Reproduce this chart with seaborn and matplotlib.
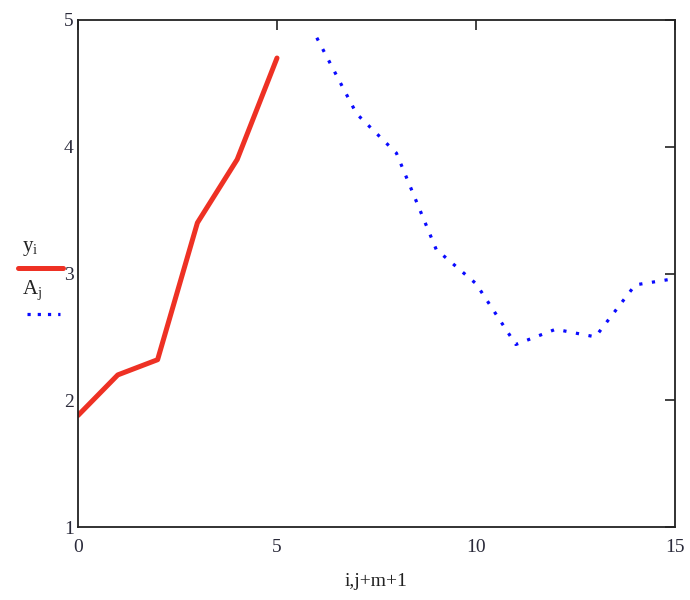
import matplotlib
matplotlib.use("Agg")
import matplotlib.pyplot as plt
import seaborn as sns
import pandas as pd

# data
red_x = [0, 1, 2, 3, 4, 5]
red_y = [1.88, 2.20, 2.32, 3.40, 3.90, 4.70]
blue_x = [6, 7, 8, 9, 10, 11, 12, 13, 14, 15]
blue_y = [4.86, 4.26, 3.95, 3.19, 2.92, 2.44, 2.56, 2.50, 2.91, 2.96]
x_ticks = [0, 5, 10, 15]
y_ticks = [1, 2, 3, 4, 5]
x_label = "i,j+m+1"

sns.set_style("white")
plt.rcParams['font.family'] = ['Liberation Serif', 'DejaVu Serif']
plt.rcParams['mathtext.fontset'] = 'custom'
plt.rcParams['mathtext.rm'] = 'Liberation Serif'
plt.rcParams['mathtext.it'] = 'Liberation Serif'

RED = "#ee3124"
BLUE = "#0a0aff"
DOTS = (0, (1, 3.0))

fig = plt.figure(figsize=(6.9, 6.0), dpi=100)
ax = fig.add_axes([78/690, 1-527/600, (675-78)/690, (527-20)/600])

df_r = pd.DataFrame({"x": red_x, "y": red_y})
df_b = pd.DataFrame({"x": blue_x, "y": blue_y})
sns.lineplot(data=df_r, x="x", y="y", ax=ax, color=RED, linewidth=3.6)
sns.lineplot(data=df_b, x="x", y="y", ax=ax, color=BLUE, linewidth=2.3,
             linestyle=DOTS)

ax.set_xlim(0, 15)
ax.set_ylim(1, 5)
ax.set_xticks(x_ticks)
ax.set_yticks(y_ticks)
ax.set_xticklabels([str(v) for v in x_ticks])
ax.set_yticklabels([str(v) for v in y_ticks])
ax.tick_params(axis='both', direction='in', length=7, width=1.2, color='#222222',
               labelsize=14, labelcolor='#2a2a3a', top=True, right=True,
               labeltop=False, labelright=False)
ax.tick_params(axis='x', pad=9)
ax.tick_params(axis='y', pad=3)
ax.set_xlabel(x_label, fontsize=14, color='#222222', labelpad=12)
ax.set_ylabel("")
for s in ax.spines.values():
    s.set_color('#222222')
    s.set_linewidth(1.3)

# legend-like labels on the left, Mathcad style
fig.text(22/690, 1-248/600, r"$\mathrm{y_i}$", fontsize=15, ha='left', va='center', color='#222222')
fig.text(22/690, 1-290/600, r"$\mathrm{A_j}$", fontsize=15, ha='left', va='center', color='#222222')
fig.add_artist(plt.Line2D([18/690, 63/690], [1-268/600, 1-268/600], color=RED,
                          linewidth=3.6, transform=fig.transFigure))
fig.add_artist(plt.Line2D([27/690, 60/690], [1-314/600, 1-314/600], color=BLUE,
                          linewidth=2.3, linestyle=(0, (1, 2.2)), transform=fig.transFigure))

fig.savefig("out.png", dpi=100)
